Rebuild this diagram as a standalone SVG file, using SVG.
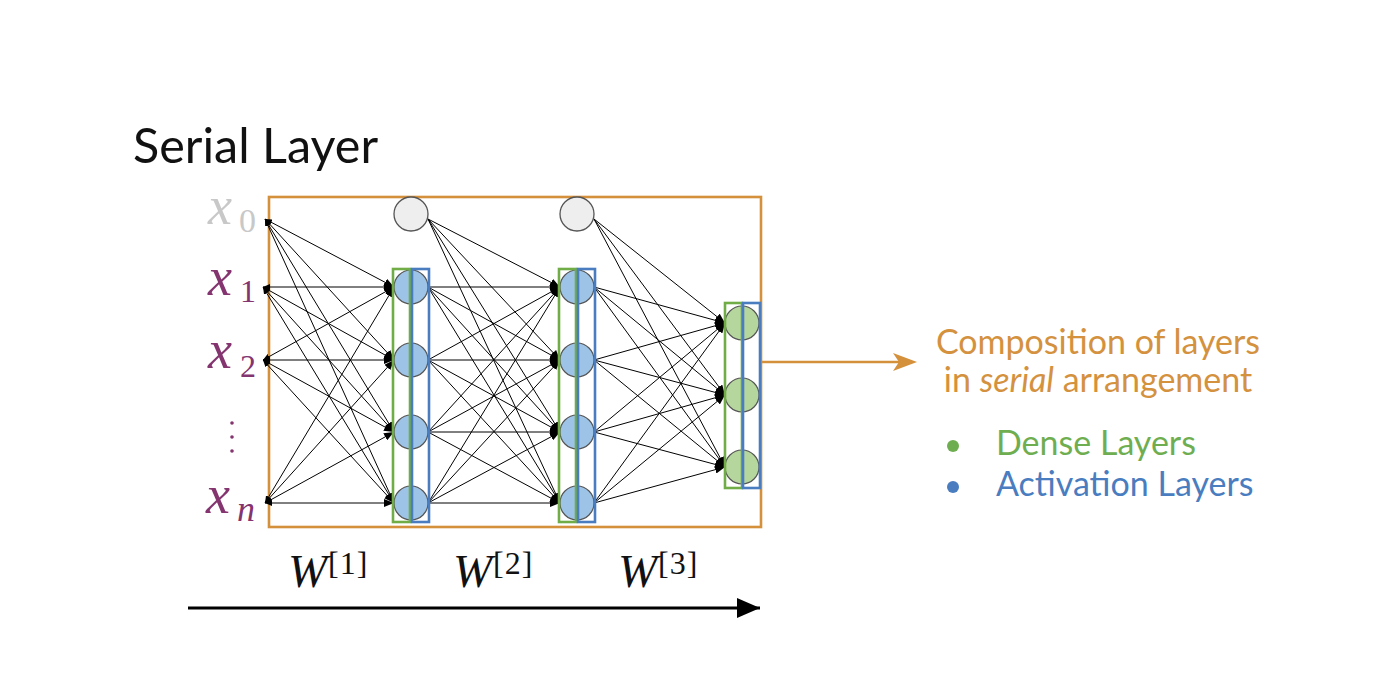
<svg xmlns="http://www.w3.org/2000/svg" width="1394" height="698" viewBox="0 0 1394 698">
<defs>
<marker id="ah" markerUnits="userSpaceOnUse" markerWidth="11" markerHeight="8" refX="10" refY="4" orient="auto"><path d="M0,0 L10,4 L0,8 z" fill="#000"/></marker>
<marker id="as" markerUnits="userSpaceOnUse" markerWidth="8" markerHeight="6" refX="7" refY="3" orient="auto-start-reverse"><path d="M0,0 L7,3 L0,6 z" fill="#000"/></marker>
<marker id="big" markerUnits="userSpaceOnUse" markerWidth="24" markerHeight="20" refX="23" refY="10" orient="auto"><path d="M0,0 L23,10 L0,20 z" fill="#000"/></marker>
</defs>
<style>
.c{stroke:#000;stroke-width:1;fill:none;marker-end:url(#ah)}
.ci{stroke:#000;stroke-width:1;fill:none;marker-end:url(#ah);marker-start:url(#as)}
.bias{fill:#eeeeee;stroke:#555;stroke-width:1.3}
.nb{fill:#9dc3e6;stroke:#555;stroke-width:1.2}
.ng{fill:#b5d69c;stroke:#555;stroke-width:1.2}
.gr{fill:none;stroke:#70ad47;stroke-width:2.6}
.br{fill:none;stroke:#4a7dbf;stroke-width:2.6}
.mx{font-family:"Liberation Serif",serif;font-style:italic}
.ms{font-family:"Liberation Serif",serif}
.pu{fill:#84346f}
.ui{font-family:Lato,"Noto Sans",sans-serif}
</style>
<rect width="1394" height="698" fill="#fff"/>
<text class="ui" x="133" y="163" font-size="48.5" fill="#111">Serial Layer</text>

<g id="frame"><rect x="269" y="197" width="492" height="330" fill="none" stroke="#d4903a" stroke-width="2.6"/></g>

<g id="connectors">
<line class="ci" x1="265" y1="219" x2="394" y2="287"/>
<line class="ci" x1="265" y1="219" x2="394" y2="360"/>
<line class="ci" x1="265" y1="219" x2="394" y2="432"/>
<line class="ci" x1="265" y1="219" x2="394" y2="503"/>
<line class="ci" x1="263" y1="287" x2="394" y2="287"/>
<line class="ci" x1="263" y1="287" x2="394" y2="360"/>
<line class="ci" x1="263" y1="287" x2="394" y2="432"/>
<line class="ci" x1="263" y1="287" x2="394" y2="503"/>
<line class="ci" x1="263" y1="360" x2="394" y2="287"/>
<line class="ci" x1="263" y1="360" x2="394" y2="360"/>
<line class="ci" x1="263" y1="360" x2="394" y2="432"/>
<line class="ci" x1="263" y1="360" x2="394" y2="503"/>
<line class="ci" x1="265" y1="503" x2="394" y2="287"/>
<line class="ci" x1="265" y1="503" x2="394" y2="360"/>
<line class="ci" x1="265" y1="503" x2="394" y2="432"/>
<line class="ci" x1="265" y1="503" x2="394" y2="503"/>

<line class="c" x1="428" y1="219" x2="560" y2="287"/>
<line class="c" x1="428" y1="219" x2="560" y2="360"/>
<line class="c" x1="428" y1="219" x2="560" y2="432"/>
<line class="c" x1="428" y1="219" x2="560" y2="503"/>
<line class="c" x1="428" y1="287" x2="560" y2="287"/>
<line class="c" x1="428" y1="287" x2="560" y2="360"/>
<line class="c" x1="428" y1="287" x2="560" y2="432"/>
<line class="c" x1="428" y1="287" x2="560" y2="503"/>
<line class="c" x1="428" y1="360" x2="560" y2="287"/>
<line class="c" x1="428" y1="360" x2="560" y2="360"/>
<line class="c" x1="428" y1="360" x2="560" y2="432"/>
<line class="c" x1="428" y1="360" x2="560" y2="503"/>
<line class="c" x1="428" y1="432" x2="560" y2="287"/>
<line class="c" x1="428" y1="432" x2="560" y2="360"/>
<line class="c" x1="428" y1="432" x2="560" y2="432"/>
<line class="c" x1="428" y1="432" x2="560" y2="503"/>
<line class="c" x1="428" y1="503" x2="560" y2="287"/>
<line class="c" x1="428" y1="503" x2="560" y2="360"/>
<line class="c" x1="428" y1="503" x2="560" y2="432"/>
<line class="c" x1="428" y1="503" x2="560" y2="503"/>

<line class="c" x1="594" y1="219" x2="725" y2="323"/>
<line class="c" x1="594" y1="219" x2="725" y2="395"/>
<line class="c" x1="594" y1="219" x2="725" y2="467"/>
<line class="c" x1="594" y1="287" x2="725" y2="323"/>
<line class="c" x1="594" y1="287" x2="725" y2="395"/>
<line class="c" x1="594" y1="287" x2="725" y2="467"/>
<line class="c" x1="594" y1="360" x2="725" y2="323"/>
<line class="c" x1="594" y1="360" x2="725" y2="395"/>
<line class="c" x1="594" y1="360" x2="725" y2="467"/>
<line class="c" x1="594" y1="432" x2="725" y2="323"/>
<line class="c" x1="594" y1="432" x2="725" y2="395"/>
<line class="c" x1="594" y1="432" x2="725" y2="467"/>
<line class="c" x1="594" y1="503" x2="725" y2="323"/>
<line class="c" x1="594" y1="503" x2="725" y2="395"/>
<line class="c" x1="594" y1="503" x2="725" y2="467"/>

<path d="M761,362 H912" stroke="#d4903a" stroke-width="2.6" fill="none"/>
<path d="M917,362 L893,353 L899,362 L893,371 z" fill="#d4903a"/>
<line x1="188" y1="608" x2="760" y2="608" stroke="#000" stroke-width="3" marker-end="url(#big)"/>
</g>

<g id="input-x0"><text class="mx" x="208" y="224" font-size="54" fill="#c8c8c8">x</text><text class="ms" x="239" y="232" font-size="34" fill="#c8c8c8">0</text></g>
<g id="input-x1"><text class="mx pu" x="208" y="295" font-size="54">x</text><text class="ms pu" x="240" y="302" font-size="32">1</text></g>
<g id="input-x2"><text class="mx pu" x="208" y="368" font-size="54">x</text><text class="ms pu" x="240" y="377" font-size="32">2</text></g>
<g id="input-dots" class="pu"><circle cx="232" cy="423" r="1.8"/><circle cx="232" cy="437" r="1.8"/><circle cx="232" cy="451" r="1.8"/></g>
<g id="input-xn"><text class="mx pu" x="206" y="513" font-size="54">x</text><text class="mx pu" x="237" y="521" font-size="36">n</text></g>

<g id="layer1">
<circle class="bias" cx="411" cy="214" r="17"/>
<circle class="nb" cx="411" cy="287" r="17"/>
<circle class="nb" cx="411" cy="360" r="17"/>
<circle class="nb" cx="411" cy="432" r="17"/>
<circle class="nb" cx="411" cy="503" r="17"/>
<rect class="gr" x="393" y="269" width="17" height="253"/>
<rect class="br" x="412" y="269" width="17" height="253"/>
</g>
<g id="layer2">
<circle class="bias" cx="577" cy="214" r="17"/>
<circle class="nb" cx="577" cy="287" r="17"/>
<circle class="nb" cx="577" cy="360" r="17"/>
<circle class="nb" cx="577" cy="432" r="17"/>
<circle class="nb" cx="577" cy="503" r="17"/>
<rect class="gr" x="559" y="269" width="17" height="253"/>
<rect class="br" x="578" y="269" width="17" height="253"/>
</g>
<g id="layer3">
<circle class="ng" cx="742" cy="323" r="17"/>
<circle class="ng" cx="742" cy="395" r="17"/>
<circle class="ng" cx="742" cy="467" r="17"/>
<rect class="gr" x="725" y="303" width="17" height="185"/>
<rect class="br" x="743" y="303" width="17" height="185"/>
</g>

<g id="weights">
<text class="mx" x="288" y="587" font-size="47" fill="#111">W</text><text class="ms" x="328" y="574" font-size="32" fill="#111" letter-spacing="1">[1]</text>
<text class="mx" x="453" y="587" font-size="47" fill="#111">W</text><text class="ms" x="493" y="574" font-size="32" fill="#111" letter-spacing="1">[2]</text>
<text class="mx" x="618" y="587" font-size="47" fill="#111">W</text><text class="ms" x="658" y="574" font-size="32" fill="#111" letter-spacing="1">[3]</text>
</g>

<g id="caption">
<text class="ui" x="1098" y="354" font-size="34" fill="#d4913e" text-anchor="middle">Composition of layers</text>
<text class="ui" x="1098" y="392" font-size="34" fill="#d4913e" text-anchor="middle">in <tspan font-style="italic">serial</tspan> arrangement</text>
</g>
<g id="legend">
<circle cx="953" cy="446" r="6" fill="#6fae50"/>
<text class="ui" x="996" y="455" font-size="34" fill="#6fae50">Dense Layers</text>
<circle cx="953" cy="487" r="6" fill="#4a7dbf"/>
<text class="ui" x="996" y="496" font-size="34" fill="#4a7dbf">Activation Layers</text>
</g>
</svg>
